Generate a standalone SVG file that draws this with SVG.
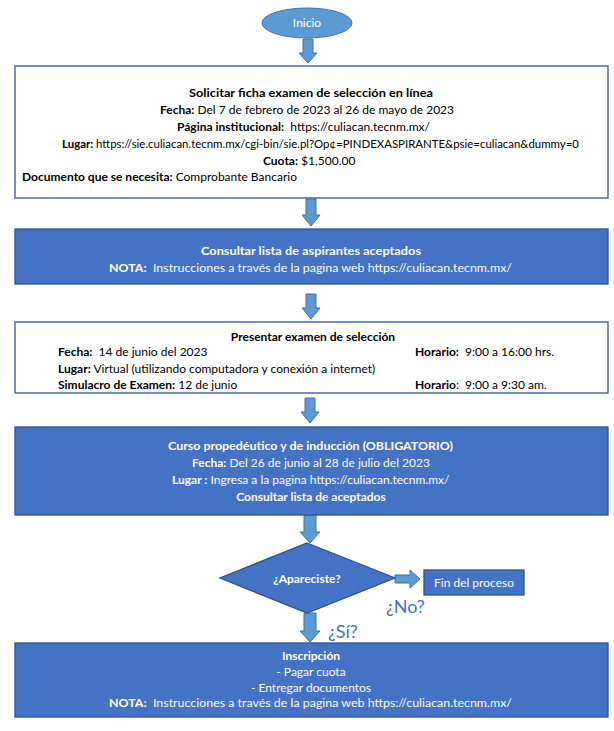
<svg xmlns="http://www.w3.org/2000/svg" width="614" height="731" viewBox="0 0 614 731">
<style>
text{font-family:Lato,"Liberation Sans",sans-serif;font-size:12px;white-space:pre}
.b{font-weight:bold}
.blk{fill:#000}
.wh{fill:#fff}
.wbox{fill:#fff;stroke:#2F5597;stroke-width:1.3}
.fbox{fill:#4472C4;stroke:#2F528F;stroke-width:1.3}
.arr{fill:#5B9BD5;stroke:#41719C;stroke-width:1}
.lbl{fill:#4472C4;font-size:18px}
</style>
<rect width="614" height="731" fill="#fff"/>
<g id="connectors">
<polygon class="arr" points="303,39 313,39 313,53 317,53 308,63 299,53 303,53"/>
<polygon class="arr" points="306,199 316,199 316,215 320,215 311,226 302,215 306,215"/>
<polygon class="arr" points="306,294 316,294 316,308 320,308 311,319 302,308 306,308"/>
<polygon class="arr" points="305,398 315,398 315,412 319,412 310,423 301,412 305,412"/>
<polygon class="arr" points="304,515 316,515 316,532 320,532 310,543 300,532 304,532"/>
<polygon class="arr" points="304,613 316,613 316,631 320,631 310,642 300,631 304,631"/>
<polygon class="arr" points="395,575 410,575 410,570 420,579 410,588 410,583 395,583"/>
<text class="lbl" x="386" y="613">¿No?</text>
<text class="lbl" x="328" y="638">¿Sí?</text>
</g>
<g id="inicio">
<ellipse cx="307" cy="23" rx="45" ry="15" fill="#5B9BD5" stroke="#41719C" stroke-width="1"/>
<text class="wh" x="307" y="27" text-anchor="middle" font-size="11">Inicio</text>
</g>
<g id="solicitar">
<rect class="wbox" x="15" y="66" width="593" height="132"/>
<text class="blk b" x="189" y="97" textLength="244" lengthAdjust="spacingAndGlyphs">Solicitar ficha examen de selección en línea</text>
<text class="blk" x="160" y="114"><tspan class="b">Fecha:</tspan> Del 7 de febrero de 2023 al 26 de mayo de 2023</text>
<text class="blk" x="177" y="131"><tspan class="b">Página institucional:</tspan>  https://culiacan.tecnm.mx/</text>
<text class="blk" x="62" y="148" textLength="517" lengthAdjust="spacingAndGlyphs"><tspan class="b">Lugar:</tspan> https://sie.culiacan.tecnm.mx/cgi-bin/sie.pl?Op¢=PINDEXASPIRANTE&amp;psie=culiacan&amp;dummy=0</text>
<text class="blk" x="263" y="165"><tspan class="b">Cuota:</tspan> $1,500.00</text>
<text class="blk" x="22" y="181"><tspan class="b">Documento que se necesita:</tspan> Comprobante Bancario</text>
</g>
<g id="consultar">
<rect class="fbox" x="15" y="229" width="593" height="55"/>
<text class="wh b" x="201" y="255" textLength="220" lengthAdjust="spacingAndGlyphs">Consultar lista de aspirantes aceptados</text>
<text class="wh" x="109" y="272" textLength="403" lengthAdjust="spacingAndGlyphs"><tspan class="b">NOTA:</tspan>  Instrucciones a través de la pagina web https://culiacan.tecnm.mx/</text>
</g>
<g id="examen">
<rect class="wbox" x="15" y="322" width="593" height="71"/>
<text class="blk b" x="313" y="341" text-anchor="middle">Presentar examen de selección</text>
<text class="blk" x="58" y="356"><tspan class="b">Fecha:</tspan>  14 de junio del 2023</text>
<text class="blk" x="415" y="356"><tspan class="b">Horario:</tspan>  9:00 a 16:00 hrs.</text>
<text class="blk" x="58" y="373"><tspan class="b">Lugar:</tspan> Virtual (utilizando computadora y conexión a internet)</text>
<text class="blk" x="58" y="389"><tspan class="b">Simulacro de Examen:</tspan> 12 de junio</text>
<text class="blk" x="415" y="389"><tspan class="b">Horario</tspan>:  9:00 a 9:30 am.</text>
</g>
<g id="curso">
<rect class="fbox" x="15" y="427" width="593" height="88"/>
<text class="wh b" x="168" y="450" textLength="285" lengthAdjust="spacingAndGlyphs">Curso propedéutico y de inducción (OBLIGATORIO)</text>
<text class="wh" x="311" y="467" text-anchor="middle"><tspan class="b">Fecha:</tspan> Del 26 de junio al 28 de julio del 2023</text>
<text class="wh" x="172" y="484"><tspan class="b">Lugar :</tspan> Ingresa a la pagina https://culiacan.tecnm.mx/</text>
<line x1="172" y1="487" x2="207" y2="487" stroke="#3F6FE8" stroke-width="1.2"/>
<text class="wh b" x="311" y="501" text-anchor="middle">Consultar lista de aceptados</text>
</g>
<g id="decision">
<polygon class="fbox" points="307,543 395,578 307,613 220,578"/>
<text class="wh b" x="307" y="583" text-anchor="middle">¿Apareciste?</text>
</g>
<g id="fin">
<rect class="fbox" x="424" y="570" width="100" height="25"/>
<text class="wh" x="474" y="587" text-anchor="middle">Fin del proceso</text>
</g>
<g id="inscripcion">
<rect class="fbox" x="15" y="643" width="593" height="74"/>
<text class="wh b" x="311" y="660" text-anchor="middle">Inscripción</text>
<text class="wh" x="311" y="676" text-anchor="middle">- Pagar cuota</text>
<text class="wh" x="311" y="692" text-anchor="middle">- Entregar documentos</text>
<text class="wh" x="109" y="707" textLength="403" lengthAdjust="spacingAndGlyphs"><tspan class="b">NOTA:</tspan>  Instrucciones a través de la pagina web https://culiacan.tecnm.mx/</text>
</g>
</svg>
